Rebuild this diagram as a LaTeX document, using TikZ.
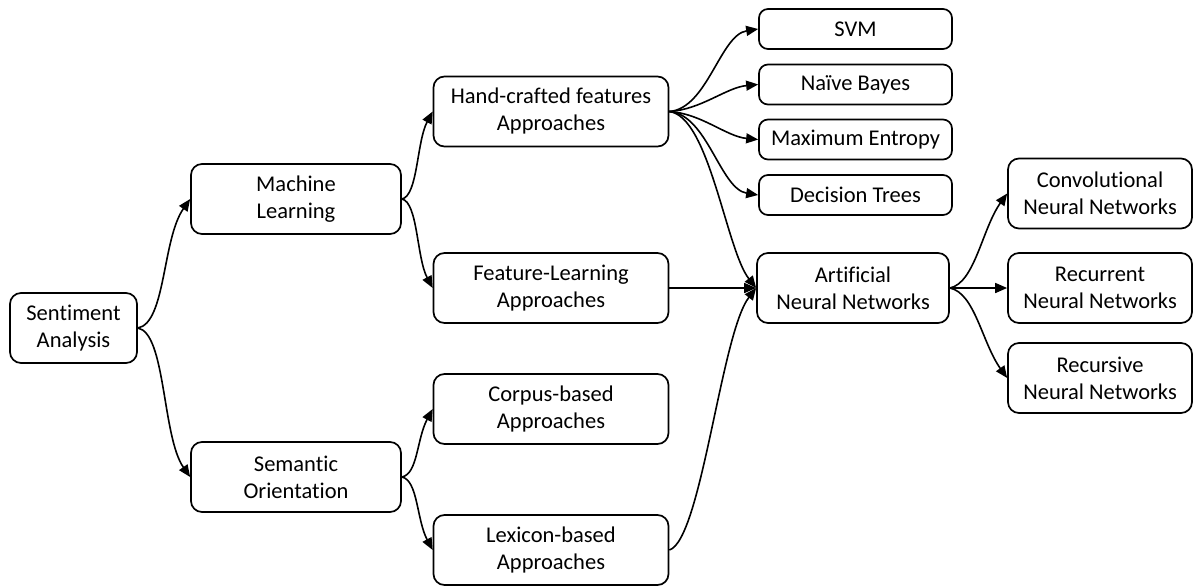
\documentclass[tikz,border=0pt]{standalone}
\usepackage{fontspec}
\setmainfont{Carlito}[Ligatures=NoCommon]
\usetikzlibrary{arrows.meta}
\tikzset{
  box/.style={draw, line width=1.7pt, rounded corners=11pt, align=center, inner sep=0pt,
    font=\fontsize{22.5}{27}\selectfont},
  bigbox/.style={box, minimum height=70pt},
  smallbox/.style={box, minimum height=40pt, minimum width=193pt, rounded corners=9pt},
  conn/.style={line width=1.6pt, -{Triangle[length=12pt,width=10pt]}},
}
\begin{document}
\begin{tikzpicture}[x=1pt,y=-1pt]
\useasboundingbox (0,0) rectangle (1194,586);
% column 1
\node[bigbox, minimum width=127pt] (sa) at (73.5,328) {Sentiment\\Analysis};
% column 2
\node[bigbox, minimum width=210pt] (ml) at (296,199) {Machine\\Learning};
\node[bigbox, minimum width=210pt] (so) at (296,477) {Semantic\\Orientation};
% column 3
\node[bigbox, minimum width=235pt] (hc) at (551,111.5) {Hand-crafted features\\Approaches};
\node[bigbox, minimum width=235pt] (fl) at (551,288) {Feature-Learning\\Approaches};
\node[bigbox, minimum width=235pt] (cb) at (551,409) {Corpus-based\\Approaches};
\node[bigbox, minimum width=235pt] (lb) at (551,550) {Lexicon-based\\Approaches};
% column 4
\node[smallbox] (svm) at (855.5,29) {SVM};
\node[smallbox] (nb) at (855.5,84.5) {Naïve Bayes};
\node[smallbox] (me) at (855.5,139.5) {Maximum Entropy};
\node[smallbox] (dt) at (855.5,195) {Decision Trees};
\node[bigbox, minimum width=192pt] (ann) at (853,288) {Artificial\\Neural Networks};
% column 5
\node[bigbox, minimum width=184pt] (cnn) at (1100,193.5) {Convolutional\\Neural Networks};
\node[bigbox, minimum width=184pt] (rnn) at (1100,288) {Recurrent\\Neural Networks};
\node[bigbox, minimum width=184pt] (rec) at (1100,378) {Recursive\\Neural Networks};
% connectors
\draw[conn] (sa.east) .. controls +(28,-5) and +(-28,40) .. (ml.west);
\draw[conn] (sa.east) .. controls +(28,5) and +(-28,-40) .. (so.west);
\draw[conn] (ml.east) .. controls +(16,-3) and +(-16,30) .. (hc.west);
\draw[conn] (ml.east) .. controls +(16,3) and +(-16,-30) .. (fl.west);
\draw[conn] (so.east) .. controls +(16,-3) and +(-16,30) .. (cb.west);
\draw[conn] (so.east) .. controls +(16,3) and +(-16,-30) .. (lb.west);
\draw[conn] (hc.east) .. controls +(38,-3) and +(-38,6) .. (svm.west);
\draw[conn] (hc.east) .. controls +(32,-2) and +(-32,3) .. (nb.west);
\draw[conn] (hc.east) .. controls +(32,2) and +(-32,-3) .. (me.west);
\draw[conn] (hc.east) .. controls +(38,3) and +(-38,-6) .. (dt.west);
\draw[conn] (hc.east) .. controls +(40,5) and +(-30,-38) .. (ann.west);
\draw[conn] (fl.east) -- (ann.west);
\draw[conn] (lb.east) .. controls +(32,-10) and +(-35,45) .. (ann.west);
\draw[conn] (ann.east) .. controls +(25,-5) and +(-25,35) .. (cnn.west);
\draw[conn] (ann.east) -- (rnn.west);
\draw[conn] (ann.east) .. controls +(25,5) and +(-25,-35) .. (rec.west);
\end{tikzpicture}
\end{document}
